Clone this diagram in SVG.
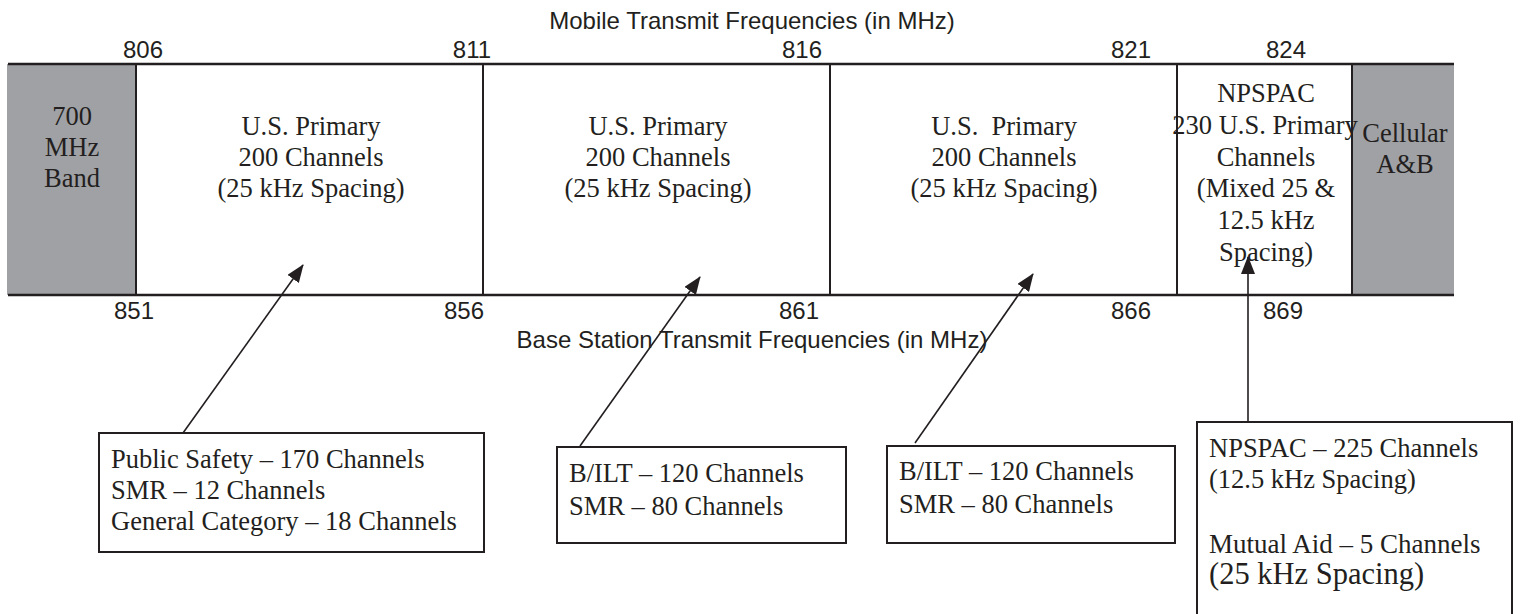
<svg xmlns="http://www.w3.org/2000/svg" width="1520" height="614" viewBox="0 0 1520 614">
<defs>
<style>
.sans{font-family:"Liberation Sans",Arial,sans-serif;font-size:24px;fill:#231f20}
.serif{font-family:"Liberation Serif","Times New Roman",serif;font-size:26.5px;fill:#231f20}
.mid{text-anchor:middle}
.gray{fill:#a0a1a5;stroke:none}
.rule{stroke:#231f20;stroke-width:2.5;fill:none}
.div{stroke:#231f20;stroke-width:2;fill:none}
.box{fill:#ffffff;stroke:#231f20;stroke-width:2}
.conn{stroke:#231f20;stroke-width:1.6;fill:none;marker-end:url(#ah)}
</style>
<marker id="ah" viewBox="0 0 18 14" refX="17" refY="7" markerWidth="18" markerHeight="14" markerUnits="userSpaceOnUse" orient="auto">
<path d="M0,0 L18,7 L0,14 z" fill="#231f20"/>
</marker>
</defs>
<rect width="1520" height="614" fill="#ffffff"/>

<text class="sans mid" x="752" y="29">Mobile Transmit Frequencies (in MHz)</text>
<text class="sans mid" x="752" y="348">Base Station Transmit Frequencies (in MHz)</text>

<g id="top-scale">
<text class="sans mid" x="143" y="58">806</text>
<text class="sans mid" x="472" y="58">811</text>
<text class="sans mid" x="802" y="58">816</text>
<text class="sans mid" x="1131" y="58">821</text>
<text class="sans mid" x="1286" y="58">824</text>
</g>
<g id="bottom-scale">
<text class="sans mid" x="134" y="319">851</text>
<text class="sans mid" x="464" y="319">856</text>
<text class="sans mid" x="799" y="319">861</text>
<text class="sans mid" x="1131" y="319">866</text>
<text class="sans mid" x="1283" y="319">869</text>
</g>

<g id="band-700">
<rect class="gray" x="7" y="64" width="129" height="231"/>
<text class="serif mid" x="72" y="125">700</text>
<text class="serif mid" x="72" y="156">MHz</text>
<text class="serif mid" x="72" y="187">Band</text>
</g>
<g id="band-cellular">
<rect class="gray" x="1352" y="64" width="102" height="231"/>
<text class="serif mid" x="1405" y="142">Cellular</text>
<text class="serif mid" x="1405" y="173">A&amp;B</text>
</g>

<g id="frame">
<line class="rule" x1="8" y1="64" x2="1454" y2="64"/>
<line class="rule" x1="8" y1="295" x2="1454" y2="295"/>
<line class="div" x1="136" y1="64" x2="136" y2="295"/>
<line class="div" x1="483" y1="64" x2="483" y2="295"/>
<line class="div" x1="830" y1="64" x2="830" y2="295"/>
<line class="div" x1="1177" y1="64" x2="1177" y2="295"/>
<line class="div" x1="1352" y1="64" x2="1352" y2="295"/>
</g>

<g id="seg-806-811">
<text class="serif mid" x="311" y="135">U.S. Primary</text>
<text class="serif mid" x="311" y="166">200 Channels</text>
<text class="serif mid" x="311" y="197">(25 kHz Spacing)</text>
</g>
<g id="seg-811-816">
<text class="serif mid" x="658" y="135">U.S. Primary</text>
<text class="serif mid" x="658" y="166">200 Channels</text>
<text class="serif mid" x="658" y="197">(25 kHz Spacing)</text>
</g>
<g id="seg-816-821">
<text class="serif mid" x="1004" y="135" xml:space="preserve">U.S.  Primary</text>
<text class="serif mid" x="1004" y="166">200 Channels</text>
<text class="serif mid" x="1004" y="197">(25 kHz Spacing)</text>
</g>
<g id="seg-821-824">
<text class="serif mid" x="1266" y="102">NPSPAC</text>
<text class="serif mid" x="1265" y="134">230 U.S. Primary</text>
<text class="serif mid" x="1266" y="166">Channels</text>
<text class="serif mid" x="1266" y="197">(Mixed 25 &amp;</text>
<text class="serif mid" x="1266" y="229">12.5 kHz</text>
<text class="serif mid" x="1266" y="261">Spacing)</text>
</g>

<g id="connectors">
<line class="conn" x1="183" y1="433" x2="303" y2="265"/>
<line class="conn" x1="580" y1="446" x2="700" y2="277"/>
<line class="conn" x1="915" y1="443" x2="1033" y2="274"/>
<line class="conn" x1="1248" y1="422" x2="1248" y2="257"/>
</g>

<g id="note-public-safety">
<rect class="box" x="99" y="433" width="385" height="119"/>
<text class="serif" x="111" y="468">Public Safety – 170 Channels</text>
<text class="serif" x="111" y="499">SMR – 12 Channels</text>
<text class="serif" x="111" y="530">General Category – 18 Channels</text>
</g>
<g id="note-bilt-1">
<rect class="box" x="557" y="447" width="289" height="96"/>
<text class="serif" x="569" y="482">B/ILT – 120 Channels</text>
<text class="serif" x="569" y="515">SMR – 80 Channels</text>
</g>
<g id="note-bilt-2">
<rect class="box" x="887" y="446" width="288" height="97"/>
<text class="serif" x="899" y="480">B/ILT – 120 Channels</text>
<text class="serif" x="899" y="513">SMR – 80 Channels</text>
</g>
<g id="note-npspac">
<rect class="box" x="1197" y="422" width="315" height="210"/>
<text class="serif" x="1209" y="457">NPSPAC – 225 Channels</text>
<text class="serif" x="1209" y="488">(12.5 kHz Spacing)</text>
<text class="serif" x="1209" y="553" style="font-size:27px">Mutual Aid – 5 Channels</text>
<text class="serif" x="1209" y="584" style="font-size:30.5px">(25 kHz Spacing)</text>
</g>
</svg>
